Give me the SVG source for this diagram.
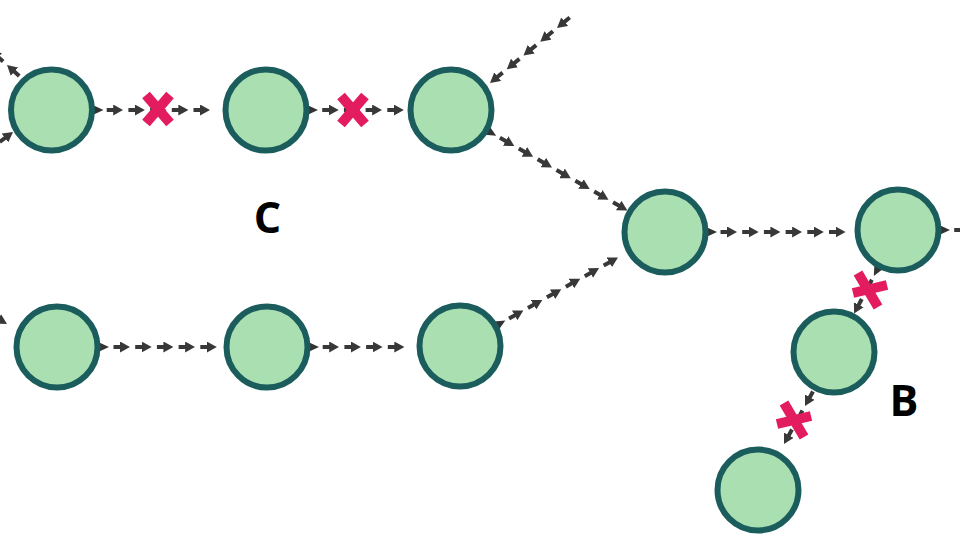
<svg xmlns="http://www.w3.org/2000/svg" xmlns:xlink="http://www.w3.org/1999/xlink" width="960" height="540" viewBox="0 0 960 540">
<style>
.node{fill:#a9dfb1;stroke:#1b5d5c;stroke-width:6}
.arr{fill:none;stroke:#383838;stroke-width:4;stroke-dasharray:10 11.7;stroke-dashoffset:16.5;marker-mid:url(#ah);marker-end:url(#ah)}
.x{fill:none;stroke:#e31c5f;stroke-width:10}
.lbl{font-family:"Open Sans","Liberation Sans",sans-serif;font-weight:bold;font-size:43px;fill:#000;text-anchor:middle}
</style>
<defs>
<marker id="ah" viewBox="0 0 10 11" refX="10" refY="5.5" markerWidth="10" markerHeight="11" markerUnits="userSpaceOnUse" orient="auto">
<path d="M0,0 L10,5.5 L0,11 z" fill="#383838"/>
</marker>
<path id="port" d="M-4,-6 L9,0 L-4,6 z" fill="#333"/>
</defs>
<rect width="960" height="540" fill="#fff"/>
<g id="connectors">
<polyline class="arr" points="23.1,79.5 7,65 -9.1,50.5"/>
<polyline class="arr" points="-21.8,158 -4.4,145 13,132"/>
<polyline class="arr" points="101.5,110 123.2,110 144.9,110 166.6,110 188.3,110 210,110"/>
<polyline class="arr" points="317,110 338.7,110 360.4,110 382.1,110 403.8,110"/>
<polyline class="arr" points="573.75,14.25 557,28 540.25,41.75 523.5,55.5 506.75,69.25 490,83"/>
<polyline class="arr" points="495.4,135.3 514.3,146 533.1,156.8 552,167.5 570.8,178.3 589.7,189 608.5,199.7 627.4,210.5"/>
<polyline class="arr" points="504.5,321.1 523.4,310.5 542.3,299.9 561.3,289.3 580.2,278.7 599.1,268.1 618,257.5"/>
<polyline class="arr" points="715.3,232 737,232 758.7,232 780.4,232 802.1,232 823.8,232 845.5,232"/>
<polyline class="arr" points="949,230 970.7,230"/>
<polyline class="arr" points="874.3,275.2 864.2,294.4 854.1,313.6"/>
<polyline class="arr" points="815.5,387 805,406 794.5,425 784,444"/>
<polyline class="arr" points="-30.6,302.3 -11.8,313.2 7,324"/>
<polyline class="arr" points="108.3,347 130,347 151.7,347 173.4,347 195.1,347 216.8,347"/>
<polyline class="arr" points="317.5,347 339.2,347 360.9,347 382.6,347 404.3,347"/>
<use xlink:href="#port" href="#port" transform="translate(94.5,110)"/>
<use xlink:href="#port" href="#port" transform="translate(309,110)"/>
<use xlink:href="#port" href="#port" transform="translate(488.4,131.3) rotate(29.7)"/>
<use xlink:href="#port" href="#port" transform="translate(708,232)"/>
<use xlink:href="#port" href="#port" transform="translate(941,230)"/>
<use xlink:href="#port" href="#port" transform="translate(878,268.1) rotate(117.7)"/>
<use xlink:href="#port" href="#port" transform="translate(100,347)"/>
<use xlink:href="#port" href="#port" transform="translate(310,347)"/>
<use xlink:href="#port" href="#port" transform="translate(497.5,325) rotate(-29.3)"/>
<path class="x" d="M146,95 L170,123 M170,95 L146,123"/>
<path class="x" d="M341,96 L365,124 M365,96 L341,124"/>
<path class="x" d="M858,273 L878,307 M853,293 L887,285"/>
<path class="x" d="M784,403 L804,437 M777,424 L811,416"/>
</g>
<g id="n1"><circle class="node" cx="51.5" cy="110" r="40.5"/></g>
<g id="n2"><circle class="node" cx="266" cy="110" r="40.5"/></g>
<g id="n3"><circle class="node" cx="451" cy="110" r="40.5"/></g>
<g id="n4"><circle class="node" cx="665" cy="232" r="40.5"/></g>
<g id="n5"><circle class="node" cx="898" cy="230" r="40.5"/></g>
<g id="n6"><circle class="node" cx="834" cy="352" r="40.5"/></g>
<g id="n7"><circle class="node" cx="758" cy="490" r="40.5"/></g>
<g id="n8"><circle class="node" cx="57" cy="347" r="40.5"/></g>
<g id="n9"><circle class="node" cx="267" cy="347" r="40.5"/></g>
<g id="n10"><circle class="node" cx="460" cy="346" r="40.5"/></g>
<g id="labels">
<text class="lbl" x="267.5" y="233">C</text>
<text class="lbl" x="904" y="416">B</text>
</g>
</svg>
